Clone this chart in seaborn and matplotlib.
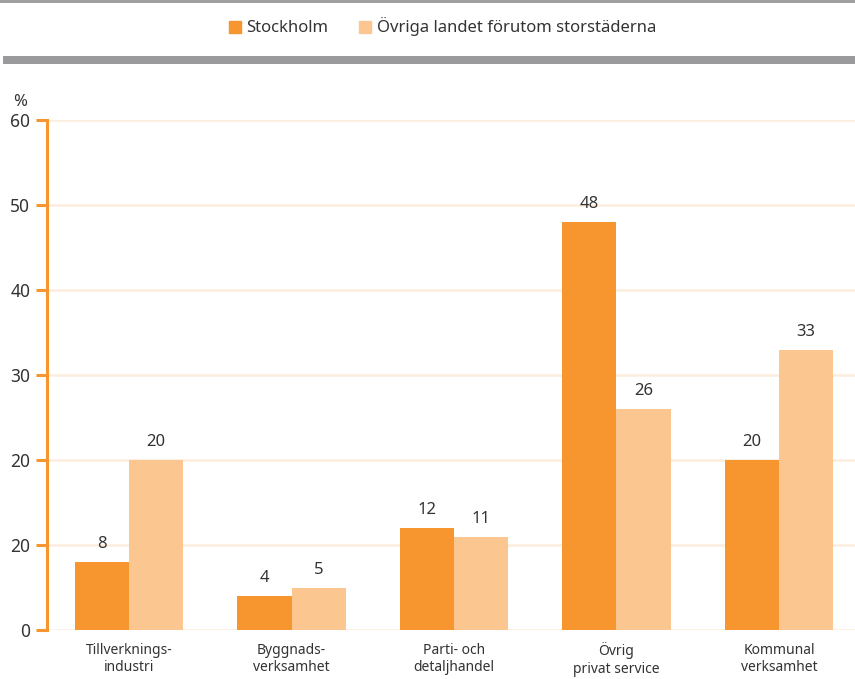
import numpy as np
import pandas as pd
import matplotlib.pyplot as plt
import matplotlib.patches as mpatches
from matplotlib.lines import Line2D
import seaborn as sns

# data
sektorer = ['Tillverknings-\nindustri', 'Byggnads-\nverksamhet', 'Parti- och\ndetaljhandel',
            'Övrig\nprivat service', 'Kommunal\nverksamhet']
regioner = ['Stockholm', 'Övriga landet förutom storstäderna']
stockholm = [8, 4, 12, 48, 20]
ovriga = [20, 5, 11, 26, 33]
ytick_vals = [0, 10, 20, 30, 40, 50, 60]
ytick_labels = ['0', '20', '20', '30', '40', '50', '60']  # as printed in the original

farger = ['#F7962F', '#FBC68F']
ljus = '#FDEDDD'
text_farg = '#333333'

df = pd.DataFrame({
    'sektor': sektorer * 2,
    'region': [regioner[0]] * 5 + [regioner[1]] * 5,
    'andel': stockholm + ovriga,
})

sns.set_style('white')
plt.rcParams['font.family'] = ['Noto Sans', 'DejaVu Sans']

fig = plt.figure(figsize=(8.55, 6.79), dpi=100)
ax = fig.add_axes([47 / 855, 49 / 679, 808 / 855, 510 / 679])

sns.barplot(data=df, x='sektor', y='andel', hue='region', palette=farger,
            width=0.67, gap=0, saturation=1, linewidth=0, ax=ax, legend=False)

for cont in ax.containers:
    ax.bar_label(cont, fmt='%d', padding=7, fontsize=12, color=text_farg)

ax.set_xlim(-0.505, 4.468)
ax.set_ylim(0, 60)
ax.set_yticks(ytick_vals)
ax.set_yticklabels(ytick_labels)
ax.set_xlabel('')
ax.set_ylabel('')

for y in ytick_vals:
    ax.axhline(y, color=ljus, lw=1.8, zorder=0)

for s in ['top', 'right', 'bottom']:
    ax.spines[s].set_visible(False)
ax.spines['left'].set_color(farger[0])
ax.spines['left'].set_linewidth(2.2)

ax.tick_params(axis='y', colors=farger[0], length=8, width=2.2, pad=4,
               labelsize=12.5, labelcolor=text_farg, left=True)
ax.tick_params(axis='x', length=0, pad=9, labelsize=10, labelcolor=text_farg)

ax.text(-0.024, 1.02, '%', transform=ax.transAxes, ha='right', va='bottom',
        fontsize=12, color=text_farg)

# legend
handles = [Line2D([], [], marker='s', ls='', markersize=9, color=c) for c in farger]
fig.legend(handles, regioner, loc='center', bbox_to_anchor=(0.515, 1 - 27 / 679),
           ncol=2, frameon=False, fontsize=12, handletextpad=0.1, handlelength=1.2,
           columnspacing=1.6, labelcolor=text_farg)

# grey rules at the top
fig.add_artist(mpatches.Rectangle((0, 1 - 3 / 679), 1, 3 / 679, transform=fig.transFigure,
                                  color='#A0A0A2', lw=0))
fig.add_artist(mpatches.Rectangle((3 / 855, 1 - 64 / 679), 1, 8 / 679, transform=fig.transFigure,
                                  color='#9A9A9C', lw=0))

fig.savefig('out.png', dpi=100)
